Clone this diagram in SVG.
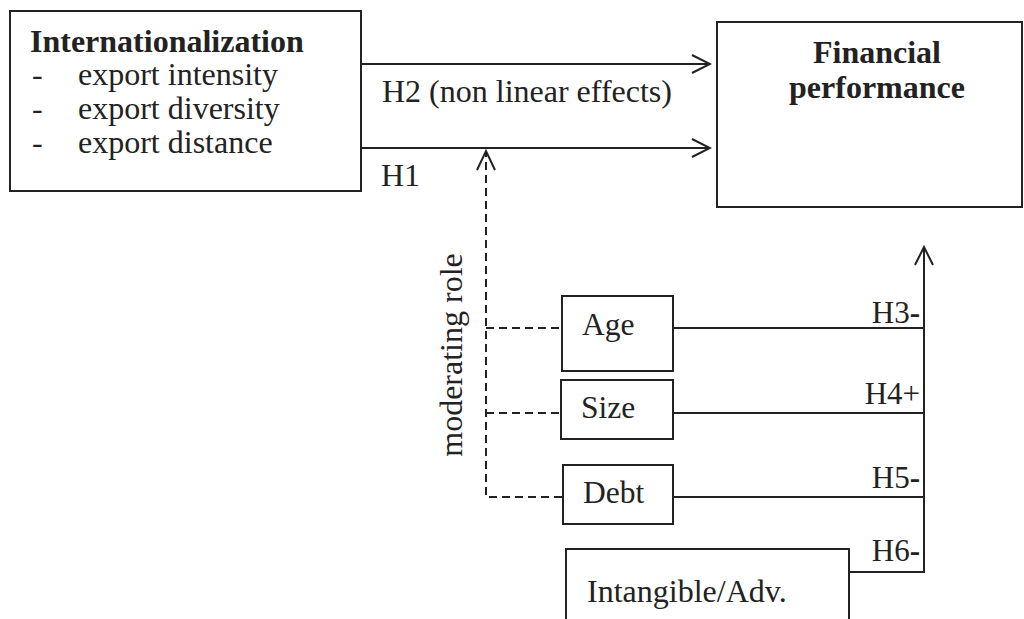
<svg xmlns="http://www.w3.org/2000/svg" width="1024" height="619" viewBox="0 0 1024 619">
<style>
text{font-family:"Liberation Serif","Times New Roman",serif;fill:#222;font-size:32px}
.b{font-weight:bold}
.m{font-size:31.5px}
.h{font-size:31px}
.box{fill:#fff;stroke:#222;stroke-width:2}
.ln{fill:none;stroke:#222;stroke-width:2}
.dash{fill:none;stroke:#222;stroke-width:2;stroke-dasharray:8,5}
</style>
<defs>
<marker id="ah" viewBox="0 0 22 22" refX="20" refY="11" markerWidth="22" markerHeight="22" markerUnits="userSpaceOnUse" orient="auto">
<path d="M2,2 L20,11 L2,20" fill="none" stroke="#222" stroke-width="2"/>
</marker>
</defs>
<rect width="1024" height="619" fill="#fff"/>
<g id="internationalization">
<rect class="box" x="10" y="11" width="351" height="180"/>
<text class="b" x="30" y="52">Internationalization</text>
<text x="32" y="85">-</text><text x="78" y="85">export intensity</text>
<text x="32" y="119">-</text><text x="78" y="119">export diversity</text>
<text x="32" y="153">-</text><text x="78" y="153">export distance</text>
</g>
<g id="financial">
<rect class="box" x="717" y="22" width="305" height="185"/>
<text class="b" x="877" y="63" text-anchor="middle">Financial</text>
<text class="b" x="877" y="98" text-anchor="middle">performance</text>
</g>
<g id="age">
<rect class="box" x="562" y="296" width="111" height="75"/>
<text class="m" x="582" y="335">Age</text>
</g>
<g id="size">
<rect class="box" x="561" y="380" width="112" height="59"/>
<text class="m" x="581" y="418">Size</text>
</g>
<g id="debt">
<rect class="box" x="563" y="465" width="110" height="59"/>
<text class="m" x="583" y="503">Debt</text>
</g>
<g id="intangible">
<rect class="box" x="566" y="549" width="283" height="80"/>
<text x="587" y="602">Intangible/Adv.</text>
</g>
<g id="connectors">
<line class="ln" x1="361" y1="64" x2="710" y2="64" marker-end="url(#ah)"/>
<line class="ln" x1="361" y1="148" x2="710" y2="148" marker-end="url(#ah)"/>
<polyline class="dash" points="562,497 486,497 486,152"/>
<path d="M477,170 L486,151 L495,170" class="ln"/>
<line class="dash" x1="486" y1="328" x2="562" y2="328"/>
<line class="dash" x1="486" y1="413" x2="561" y2="413"/>
<line class="ln" x1="673" y1="328" x2="924" y2="328"/>
<line class="ln" x1="673" y1="413" x2="924" y2="413"/>
<line class="ln" x1="673" y1="497" x2="924" y2="497"/>
<polyline class="ln" points="849,572 924,572 924,247" marker-end="url(#ah)"/>
</g>
<g id="labels">
<text x="382" y="102">H2 (non linear effects)</text>
<text x="381" y="186">H1</text>
<text transform="translate(462,355) rotate(-90)" text-anchor="middle">moderating role</text>
<text class="h" x="920" y="323" text-anchor="end">H3<tspan class="b">-</tspan></text>
<text class="h" x="920" y="404" text-anchor="end">H4+</text>
<text class="h" x="920" y="488" text-anchor="end">H5<tspan class="b">-</tspan></text>
<text class="h" x="920" y="561" text-anchor="end">H6<tspan class="b">-</tspan></text>
</g>
</svg>
